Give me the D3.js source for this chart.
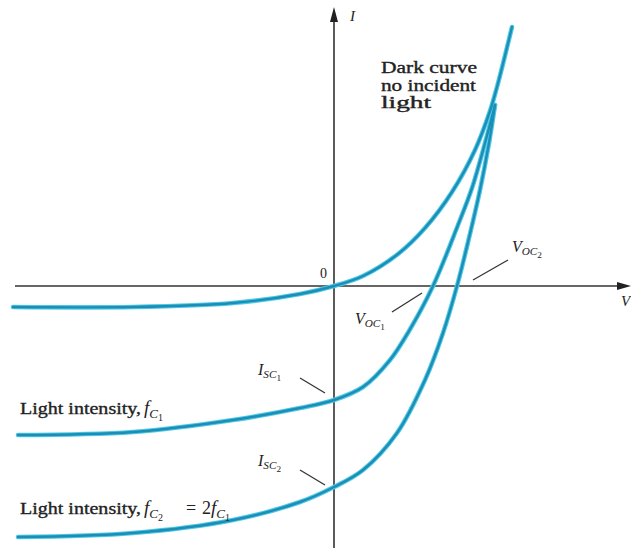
<!DOCTYPE html>
<html>
<head>
<meta charset="utf-8">
<script src="https://cdn.jsdelivr.net/npm/d3@7"></script>
<style>
  body { margin: 0; background: #fff; }
  svg { display: block; }
  text { font-family: "Liberation Serif", "Times New Roman", serif; fill: #222; }
</style>
</head>
<body>
<div id="wrapper"></div>
<script>
// curve data, in axis units (V, I)
const darkCurve = [[-32.1,-2.1],[-20.1,-2.1],[-10.1,-1.7],[-3.4,-0.8],[0,0],[2.9,1.0],[6.4,3.2],[9.1,5.8],[11.8,9.4],[14.1,13.6],[15.6,17.5],[16.3,19.9],[17.8,25.9]]
const lightCurve1 = [[-31.6,-14.9],[-20.1,-14.6],[-10.1,-13.4],[-3.4,-12.2],[0,-11.4],[2.9,-10.1],[5.6,-7.4],[7.5,-4.5],[9.9,0],[12.4,6.1],[13.8,9.8],[15.1,14.3],[16.1,18.1]]
const lightCurve2 = [[-31.6,-25.1],[-20.1,-24.7],[-10.1,-23.4],[-3.4,-21.6],[0,-20.1],[2.9,-18.4],[6.3,-14.7],[9.1,-9.4],[10.9,-4.7],[12.3,0],[13.5,4.8],[14.6,9.6],[15.5,14.3],[16.1,18.1]]
const curves = [darkCurve, lightCurve1, lightCurve2]

// leader lines for the labels (axis units)
const leaders = [
    [[-3.4,-9.2],[-0.9,-10.7]],   // Isc1
    [[-3.4,-18.4],[-0.9,-19.9]],  // Isc2
    [[5.8,-2.6],[8.8,-0.7]],      // Voc1
    [[13.9,0.6],[17.4,2.6]],      // Voc2
]

function draw() {
    const width = 631, height = 548

    const svg = d3.select("#wrapper").append("svg")
        .attr("width", width)
        .attr("height", height)

    const xScale = d3.scaleLinear().domain([-32, 30]).range([14, 634])
    const yScale = d3.scaleLinear().domain([-26, 28]).range([546, 6])

    const x0 = xScale(0), y0 = yScale(0)

    // axes
    svg.append("line")
        .attr("x1", xScale(-31.9)).attr("x2", xScale(28.8))
        .attr("y1", y0).attr("y2", y0)
        .attr("stroke", "#333").attr("stroke-width", 1.6)
    svg.append("path")
        .attr("d", `M${xScale(29.7)},${y0} L${xScale(28.3)},${y0-4} L${xScale(28.3)},${y0+4} Z`)
        .attr("fill", "#222")
    svg.append("line")
        .attr("x1", x0).attr("x2", x0)
        .attr("y1", yScale(-26.2)).attr("y2", yScale(26.5))
        .attr("stroke", "#333").attr("stroke-width", 1.6)
    svg.append("path")
        .attr("d", `M${x0},${yScale(27.9)} L${x0-4},${yScale(26.4)} L${x0+4},${yScale(26.4)} Z`)
        .attr("fill", "#222")

    // curves
    const line = d3.line()
        .x(d => xScale(d[0]))
        .y(d => yScale(d[1]))
        .curve(d3.curveCatmullRom.alpha(0.5))

    const g = svg.append("g")
    g.selectAll(".halo").data(curves).join("path")
        .attr("class", "halo")
        .attr("d", line)
        .attr("fill", "none")
        .attr("stroke", "#4cc9e8")
        .attr("stroke-width", 4.6)
        .attr("stroke-linecap", "round")
    g.selectAll(".core").data(curves).join("path")
        .attr("class", "core")
        .attr("d", line)
        .attr("fill", "none")
        .attr("stroke", "#1d8db3")
        .attr("stroke-width", 2.4)
        .attr("stroke-linecap", "round")

    // leader lines
    svg.selectAll(".leader").data(leaders).join("line")
        .attr("class", "leader")
        .attr("x1", d => xScale(d[0][0])).attr("y1", d => yScale(d[0][1]))
        .attr("x2", d => xScale(d[1][0])).attr("y2", d => yScale(d[1][1]))
        .attr("stroke", "#333").attr("stroke-width", 1.3)

    // axis labels
    svg.append("text").attr("x", x0 + 16).attr("y", 21)
        .attr("font-style", "italic").attr("font-size", 15).text("I")
    svg.append("text").attr("x", 621).attr("y", 306)
        .attr("font-style", "italic").attr("font-size", 15).text("V")
    svg.append("text").attr("x", x0 - 14).attr("y", y0 - 8)
        .attr("font-size", 14).text("0")

    // dark curve note
    const note = ["Dark curve", "no incident", "light"]
    const noteW = [96, 95, 50]
    svg.selectAll(".note").data(note).join("text")
        .attr("class", "note")
        .attr("x", 381)
        .attr("y", (d, i) => 73 + i * 17.5)
        .attr("font-size", 16)
        .attr("textLength", (d, i) => noteW[i])
        .attr("lengthAdjust", "spacingAndGlyphs")
        .attr("stroke", "#222").attr("stroke-width", 0.35)
        .text(d => d)

    // light intensity labels
    const intensityY = [414, 514]
    svg.selectAll(".intensity").data(intensityY).join("text")
        .attr("class", "intensity")
        .attr("x", 20).attr("y", d => d)
        .attr("font-size", 17)
        .attr("textLength", 121)
        .attr("lengthAdjust", "spacingAndGlyphs")
        .attr("stroke", "#222").attr("stroke-width", 0.35)
        .text("Light intensity,")

    function fc(x, y, n) {
        const t = svg.append("text").attr("x", x).attr("y", y).attr("font-size", 19)
        t.append("tspan").attr("font-style", "italic").text("f")
        t.append("tspan").attr("font-style", "italic").attr("font-size", 13).attr("dy", 4).text("C")
        t.append("tspan").attr("font-size", 10).attr("dy", 3).text(n)
    }
    fc(144, 414, "1")
    fc(144, 514, "2")
    svg.append("text").attr("x", 186).attr("y", 514).attr("font-size", 18).text("=")
    svg.append("text").attr("x", 202).attr("y", 514).attr("font-size", 18).text("2")
    fc(211, 514, "1")

    // Isc, Voc labels
    function sub(x, y, main, s, n, size) {
        const t = svg.append("text").attr("x", x).attr("y", y).attr("font-size", size)
        t.append("tspan").attr("font-style", "italic").text(main)
        t.append("tspan").attr("font-style", "italic").attr("font-size", size * 0.7).attr("dy", 3).text(s)
        t.append("tspan").attr("font-size", size * 0.58).attr("dy", 3).text(n)
    }
    sub(258, 375, "I", "SC", "1", 16)
    sub(258, 466, "I", "SC", "2", 16)
    sub(355, 324, "V", "OC", "1", 16)
    sub(512, 252, "V", "OC", "2", 16)
}

draw()
</script>
</body>
</html>
